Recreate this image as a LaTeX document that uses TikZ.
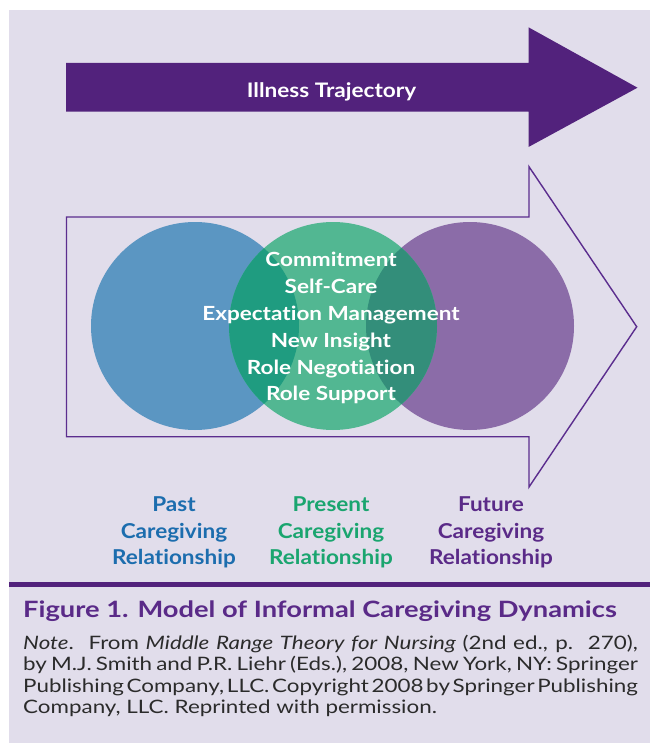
\documentclass[tikz,border=0pt]{standalone}
\usepackage{fontspec}
\setmainfont{Lato}[Ligatures=NoCommon]
\definecolor{bg}{HTML}{E1DDEB}
\definecolor{darkpurple}{HTML}{52227C}
\definecolor{linepurple}{HTML}{5B2D8E}
\definecolor{cblue}{HTML}{5B96C2}
\definecolor{cgreen}{HTML}{52B792}
\definecolor{cpurple}{HTML}{8B6CA8}
\definecolor{obg}{HTML}{1F9C80}
\definecolor{ogp}{HTML}{338E7A}
\definecolor{tblue}{HTML}{1C6DAE}
\definecolor{tgreen}{HTML}{1AA56F}
\definecolor{tpurple}{HTML}{5A2A88}
\definecolor{notegray}{HTML}{2B2B2B}
\newcommand\ctext[1]{\scalebox{1.155}[1]{#1}}
\newcommand\ltext[1]{\scalebox{1.10}[1]{#1}}
\newcommand\ntext[1]{\scalebox{1.21}[1]{#1}}
\newcommand\jline[1]{\ntext{\spaceskip=0.16em plus 1em minus 0.06em\makebox[508pt][s]{#1}}}
\tikzset{
  inner/.style={anchor=base, text=white, inner sep=0pt, font=\fontsize{19.5}{19.5}\selectfont\bfseries},
  lbl/.style={anchor=base, inner sep=0pt, font=\fontsize{20.5}{20.5}\selectfont\bfseries},
  notel/.style={anchor=base west, inner sep=0pt, text=notegray, font=\fontsize{18.5}{18.5}\selectfont}
}
\begin{document}
\begin{tikzpicture}[x=1pt,y=-1pt]
\useasboundingbox (0,0) rectangle (650,743);
\fill[bg] (9,10.5) rectangle (650,743);
% illness trajectory arrow
\fill[darkpurple] (66,63) -- (528.5,63) -- (528.5,27.3) -- (637.5,87.7) -- (528.5,147) -- (528.5,111.7) -- (66,111.7) -- cycle;
\node[anchor=base, text=white, inner sep=0pt, font=\fontsize{20}{20}\selectfont\bfseries] (traj) at (331.5,98) {\scalebox{1.13}[1]{Illness Trajectory}};
% outline arrow
\draw[linepurple, line width=1.4pt, line join=miter] (66.5,217) -- (529,217) -- (529,166.7) -- (636.7,326.7) -- (529,487) -- (529,436.7) -- (66.5,436.7) -- cycle;
% circles
\fill[cblue] (195,326) circle[radius=104pt];
\fill[cpurple] (470,326) circle[radius=104pt];
\fill[cgreen] (333,326) circle[radius=104pt];
\begin{scope}
  \clip (195,326) circle[radius=104pt];
  \fill[obg] (333,326) circle[radius=104pt];
\end{scope}
\begin{scope}
  \clip (470,326) circle[radius=104pt];
  \fill[ogp] (333,326) circle[radius=104pt];
\end{scope}
% center text
\node[inner] (l1) at (331,266.7) {\ctext{Commitment}};
\node[inner] (l2) at (331,293.5) {\ctext{Self-Care}};
\node[inner] (l3) at (331,320.5) {\ctext{Expectation Management}};
\node[inner] (l4) at (331,347.2) {\ctext{New Insight}};
\node[inner] (l5) at (331,374) {\ctext{Role Negotiation}};
\node[inner] (l6) at (331,400.5) {\ctext{Role Support}};
% labels
\node[lbl, text=tblue] (pa1) at (174,511.7) {\ltext{Past}};
\node[lbl, text=tblue] (pa2) at (174,538.2) {\ltext{Caregiving}};
\node[lbl, text=tblue] (pa3) at (174,564.7) {\ltext{Relationship}};
\node[lbl, text=tgreen] (pr1) at (331,511.7) {\ltext{Present}};
\node[lbl, text=tgreen] (pr2) at (331,538.2) {\ltext{Caregiving}};
\node[lbl, text=tgreen] (pr3) at (331,564.7) {\ltext{Relationship}};
\node[lbl, text=tpurple] (fu1) at (491,511.7) {\ltext{Future}};
\node[lbl, text=tpurple] (fu2) at (491,538.2) {\ltext{Caregiving}};
\node[lbl, text=tpurple] (fu3) at (491,564.7) {\ltext{Relationship}};
% caption
\draw[darkpurple, line width=4.6pt] (9,584.7) -- (650,584.7);
\node[anchor=base west, inner sep=0pt, text=tpurple, font=\fontsize{22.5}{22.5}\selectfont\bfseries] (title) at (23,617) {\scalebox{1.213}[1]{Figure 1. Model of Informal Caregiving Dynamics}};
\node[notel] (n1) at (23,649) {\jline{\textit{Note}. From \textit{Middle Range Theory for Nursing} (2nd ed., p. 270),}};
\node[notel] (n2) at (23,670.5) {\jline{by M.J. Smith and P.R. Liehr (Eds.), 2008, New York, NY: Springer}};
\node[notel] (n3) at (23,692) {\jline{Publishing Company, LLC. Copyright 2008 by Springer Publishing}};
\node[notel] (n4) at (23,713) {\ntext{Company, LLC. Reprinted with permission.}};
\end{tikzpicture}
\end{document}
